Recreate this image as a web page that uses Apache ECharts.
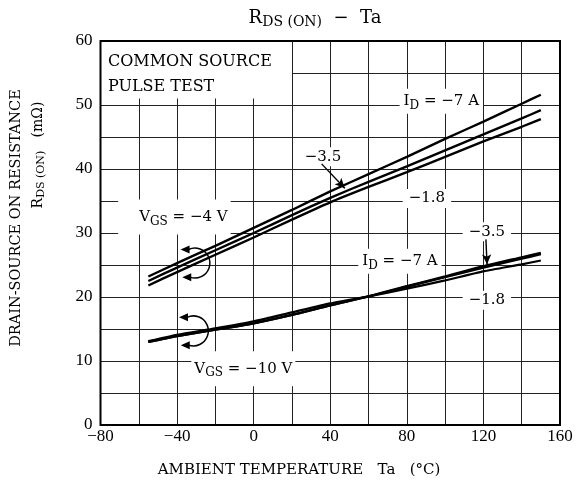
<!DOCTYPE html>
<html><head><meta charset="utf-8">
<script src="https://cdn.jsdelivr.net/npm/echarts@6/dist/echarts.min.js"></script>
<style>html,body{margin:0;padding:0;background:#fff}#c{width:576px;height:491px}</style>
</head><body><div id="c"></div>
<script>
// ---- data ----
const temps      = [-55, -40, -20, 0, 20, 40, 60, 80, 100, 120, 140, 150];
// VGS = -4 V
const vgs4_id7   = [23.2, 25.3, 28.0, 30.8, 33.6, 36.5, 39.2, 41.9, 44.7, 47.4, 50.2, 51.6];
const vgs4_id35  = [22.5, 24.6, 27.3, 30.0, 32.8, 35.5, 38.0, 40.4, 42.9, 45.4, 47.9, 49.2];
const vgs4_id18  = [21.8, 23.9, 26.6, 29.3, 32.1, 34.8, 37.2, 39.5, 41.9, 44.3, 46.6, 47.8];
// VGS = -10 V
const vgs10_id7  = [13.0, 13.9, 14.9, 15.9, 17.2, 18.7, 20.1, 21.7, 23.2, 24.8, 26.2, 26.9];
const vgs10_id35 = [13.0, 13.9, 14.9, 15.9, 17.2, 18.7, 20.1, 21.6, 23.1, 24.6, 26.0, 26.7];
const vgs10_id18 = [13.1, 14.1, 15.1, 16.2, 17.6, 19.0, 20.1, 21.3, 22.6, 24.0, 25.1, 25.7];
// axis ticks
const xLabelTicks = [-80, -40, 0, 40, 80, 120, 160];
const yLabelTicks = [0, 10, 20, 30, 40, 50, 60];
// annotation texts (data coordinates)
const notes = [
  {t: '{i|I}{s|D}{i| = \u22127 A}', x: 98, y: 50.6, pad: [2, 4, 2, 4]},
  {t: '{i|\u22123.5}', x: 36.2, y: 41.9, pad: [2, 6, 2, 6]},
  {t: '{i|\u22121.8}', x: 90.5, y: 35.4, pad: [2, 6, 2, 6]},
  {t: '{i|V}{s|GS}{i| = \u22124 V}', x: -41.4, y: 32.5, pad: [7, 3, 7, 21]},
  {t: '{i|\u22123.5}', x: 121.8, y: 30.2, pad: [2, 6, 2, 6]},
  {t: '{i|I}{s|D}{i| = \u22127 A}', x: 76.4, y: 25.6, pad: [2, 4, 2, 4]},
  {t: '{i|\u22121.8}', x: 121.8, y: 19.5, pad: [2, 6, 2, 6]},
  {t: '{i|V}{s|GS}{i| = \u221210 V}', x: -5.4, y: 8.8, pad: [7, 3, 7, 3]}
];
const boxNotes = [
  {t: 'COMMON SOURCE', x: -76.1, y: 56.7},
  {t: 'PULSE TEST', x: -76.1, y: 52.9}
];
const boxArea = [[-80, 51], [20, 60]];
const pointerArrows = [
  [[35.5, 40.8], [47.6, 37.0]],
  [[121.3, 29.0], [121.9, 25.1]]
];
const rotArrows = [[-30.7, 25.3], [-31.5, 14.7]];

const SERIF = 'DejaVu Serif';
const NUM = 'Liberation Serif';
const richStyle = {
  i: {fontFamily: SERIF, fontSize: 15, color: '#000', textBorderWidth: 0},
  s: {fontFamily: SERIF, fontSize: 12, color: '#000', textBorderWidth: 0, padding: [9, 0, 0, 0]}
};
const fmtNum = v => v < 0 ? '\u2212' + Math.abs(v) : String(v);

const chart = echarts.init(document.getElementById('c'));
const mk = (name, vals, w) => ({
  type: 'line', name, data: temps.map((t, i) => [t, vals[i]]),
  symbol: 'none', smooth: 0.2, silent: true, z: 6,
  lineStyle: {color: '#000', width: w}
});

const option = {
  animation: false,
  backgroundColor: '#fff',
  grid: {left: 100.5, right: 16, top: 41, bottom: 66, show: false},
  xAxis: {
    type: 'value', min: -80, max: 160, interval: 20,
    axisLine: {show: false}, axisTick: {show: false},
    splitLine: {show: true, lineStyle: {color: '#222', width: 1}},
    axisLabel: {
      margin: 3, color: '#000', fontFamily: NUM, fontSize: 17,
      formatter: v => xLabelTicks.includes(v) ? fmtNum(v) : ''
    }
  },
  yAxis: {
    type: 'value', min: 0, max: 60, interval: 5,
    axisLine: {show: false}, axisTick: {show: false},
    splitLine: {show: true, lineStyle: {color: '#222', width: 1}},
    axisLabel: {
      margin: 8, color: '#000', fontFamily: NUM, fontSize: 17,
      formatter: v => yLabelTicks.includes(v) ? String(v) : ''
    }
  },
  series: [
    mk('VGS-4 ID-7', vgs4_id7, 2.4),
    mk('VGS-4 ID-3.5', vgs4_id35, 2.4),
    mk('VGS-4 ID-1.8', vgs4_id18, 2.4),
    mk('VGS-10 ID-7', vgs10_id7, 2.4),
    mk('VGS-10 ID-3.5', vgs10_id35, 2.4),
    mk('VGS-10 ID-1.8', vgs10_id18, 2.2),
    {
      type: 'scatter', name: 'notes', symbolSize: 0, silent: true, z: 4,
      itemStyle: {color: '#000', opacity: 1},
      data: notes.map(n => ({
        value: [n.x, n.y],
        label: {
          show: true, position: 'inside', formatter: n.t, rich: richStyle,
          color: '#000', textBorderWidth: 0,
          backgroundColor: '#fff', padding: n.pad
        }
      })).concat(boxNotes.map(n => ({
        value: [n.x, n.y],
        label: {
          show: true, position: 'right', distance: 0, formatter: n.t,
          fontFamily: SERIF, fontSize: 16, color: '#000', textBorderWidth: 0
        }
      }))),
      markArea: {
        silent: true, itemStyle: {color: '#fff', opacity: 1},
        data: [[{coord: boxArea[0]}, {coord: boxArea[1]}]]
      },
      markLine: {
        silent: true, symbol: ['none', 'arrow'], symbolSize: [7, 10],
        lineStyle: {color: '#000', width: 1.4, type: 'solid', opacity: 1}, label: {show: false},
        data: pointerArrows.map(a => [{coord: a[0]}, {coord: a[1]}])
      }
    }
  ]
};
chart.setOption(option);

// frame, rotation arrows, titles (layout elements)
const p0 = chart.convertToPixel({gridIndex: 0}, [-80, 0]);
const p1 = chart.convertToPixel({gridIndex: 0}, [160, 60]);
const graphics = [{
  type: 'rect', z: 100,
  shape: {x: p0[0], y: p1[1], width: p1[0] - p0[0], height: p0[1] - p1[1]},
  style: {fill: null, stroke: '#000', lineWidth: 2}
}];
const R = 15;
rotArrows.forEach(c => {
  const [cx, cy] = chart.convertToPixel({gridIndex: 0}, c);
  const a0 = -115 * Math.PI / 180, a1 = 108 * Math.PI / 180;
  graphics.push({
    type: 'arc', z: 100,
    shape: {cx, cy, r: R, startAngle: a0, endAngle: a1, clockwise: true},
    style: {stroke: '#000', lineWidth: 1.5, fill: null}
  });
  [a0, a1].forEach(a => {
    const ex = cx + R * Math.cos(a), ey = cy + R * Math.sin(a);
    graphics.push({
      type: 'polygon', z: 100,
      shape: {points: [[ex - 8, ey], [ex + 1, ey - 4], [ex + 1, ey + 4]]},
      style: {fill: '#000'}
    });
  });
});
graphics.push({
  type: 'text', x: 315, y: 18, z: 100,
  style: {
    text: '{r|R}{s|DS (ON)}{r|  \u2212  Ta}', align: 'center', verticalAlign: 'middle',
    rich: {
      r: {fontFamily: SERIF, fontSize: 18, color: '#000'},
      s: {fontFamily: SERIF, fontSize: 14, color: '#000', padding: [9, 0, 0, 0]}
    }
  }
});
graphics.push({
  type: 'text', x: 299, y: 470, z: 100,
  style: {
    text: 'AMBIENT TEMPERATURE   Ta   (\u00B0C)', align: 'center', verticalAlign: 'middle',
    fontFamily: SERIF, fontSize: 15, fill: '#000'
  }
});
graphics.push({
  type: 'text', x: 16, y: 218, rotation: Math.PI / 2, z: 100,
  style: {
    text: 'DRAIN-SOURCE ON RESISTANCE', align: 'center', verticalAlign: 'middle',
    fontFamily: SERIF, fontSize: 14.5, fill: '#000'
  }
});
graphics.push({
  type: 'text', x: 38, y: 155, rotation: Math.PI / 2, z: 100,
  style: {
    text: '{r|R}{s|DS (ON)}{r|   (m\u03A9)}', align: 'center', verticalAlign: 'middle',
    rich: {
      r: {fontFamily: SERIF, fontSize: 14, color: '#000'},
      s: {fontFamily: SERIF, fontSize: 11, color: '#000', padding: [7, 0, 0, 0]}
    }
  }
});
chart.setOption({graphic: graphics});
</script>
</body></html>
